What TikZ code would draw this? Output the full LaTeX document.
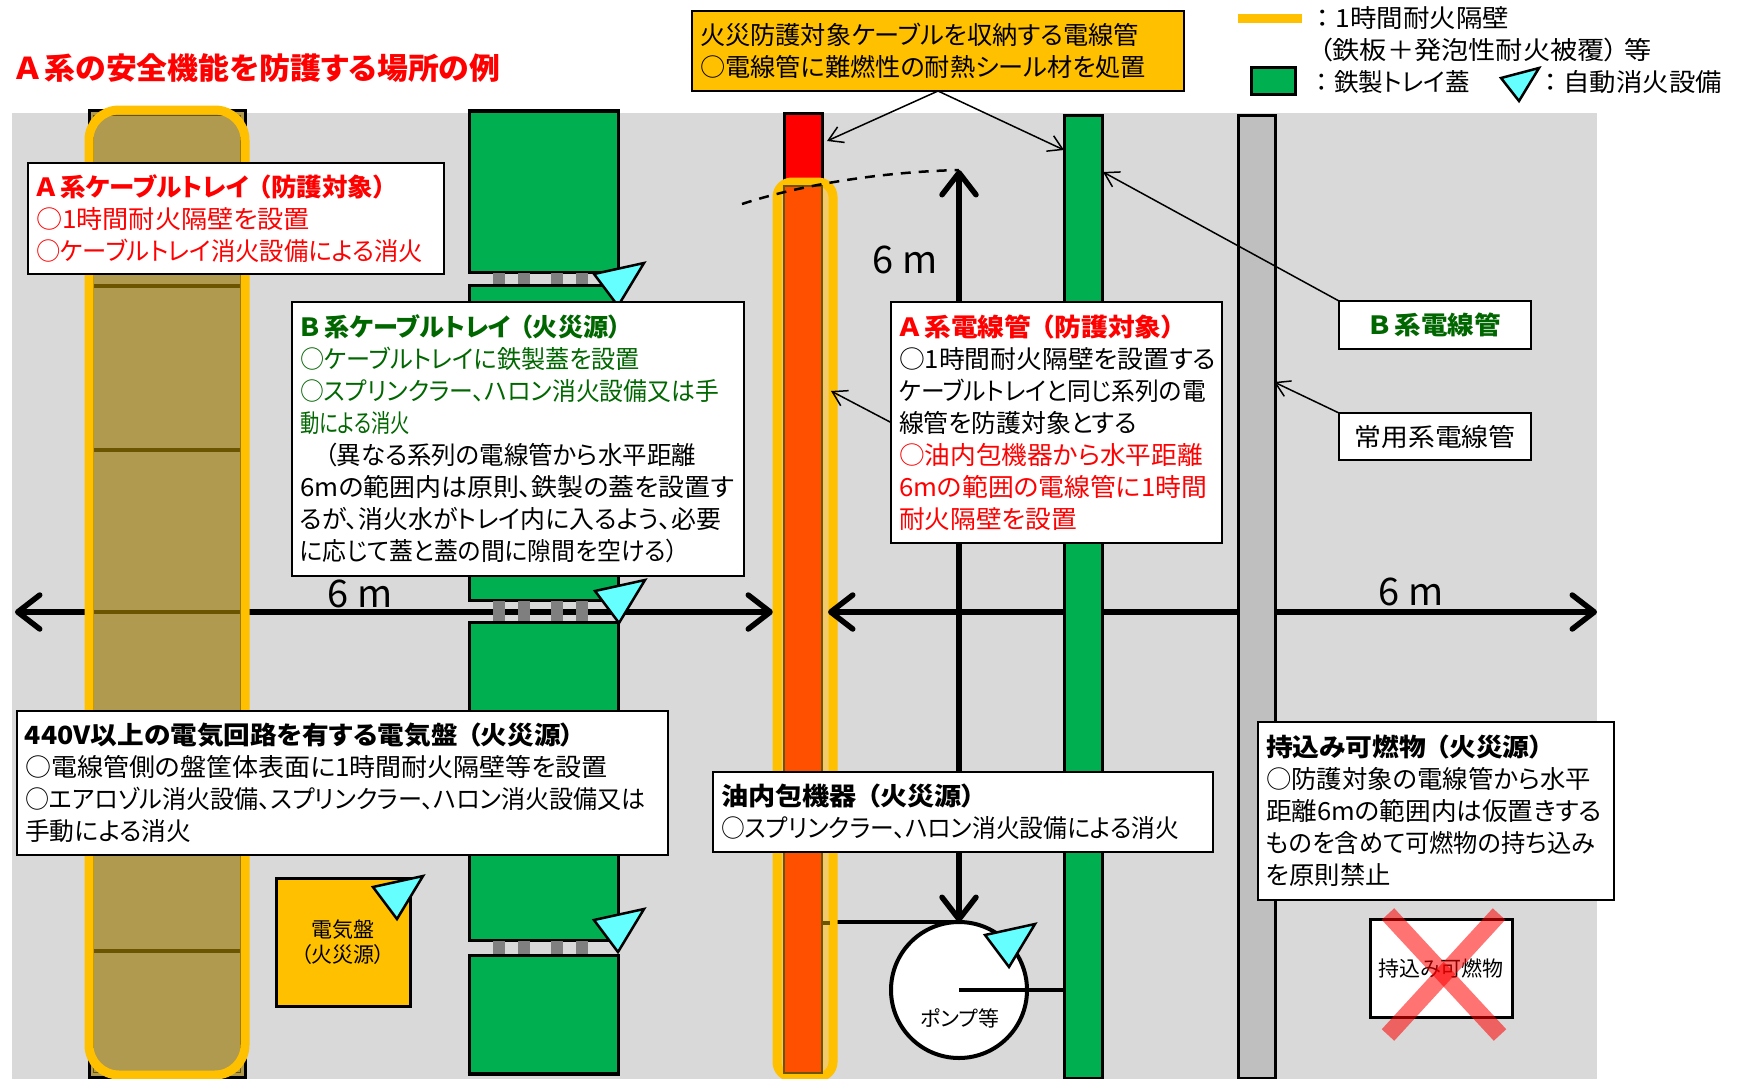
\documentclass[tikz,border=0pt]{standalone}
\usepackage{graphicx}
\usepackage{fontspec}
\setmainfont{Noto Sans CJK JP}[RawFeature={+palt}]
\usetikzlibrary{arrows.meta}

\definecolor{wallyellow}{HTML}{FFC000}
\definecolor{wallpale}{HTML}{F2CA6C}
\definecolor{traygreen}{HTML}{00B050}
\definecolor{traybrown}{HTML}{B09A4F}
\definecolor{bandbrown}{HTML}{6B5500}
\definecolor{groundgray}{HTML}{D9D9D9}
\definecolor{pipegray}{HTML}{BFBFBF}
\definecolor{squaregray}{HTML}{7F7F7F}
\definecolor{pipeorange}{HTML}{FF5000}
\definecolor{nozzlecyan}{HTML}{66FFFF}
\definecolor{textgreen}{HTML}{006600}

% one printed line, set to the width it has on the sheet
\newcommand{\fitline}[2]{\resizebox{#1pt}{\height}{#2}}
\newcommand{\gapA}{\hspace{4pt}}
\newcommand{\gapB}{\hspace{9pt}}

\tikzset{
  bodytext/.style={font=\fontsize{25}{32}\selectfont},
  infobox/.style={draw=black,line width=2pt,fill=white,anchor=north west,align=left,inner sep=8pt,outer sep=0pt,bodytext},
  plaintext/.style={inner sep=0pt,outer sep=0pt,bodytext},
  smalltext/.style={inner sep=0pt,outer sep=0pt,align=center,font=\fontsize{21}{25}\selectfont},
  sixtext/.style={inner sep=0pt,font=\fontsize{38}{38}\selectfont},
  sixarrow/.style={line width=5.5pt,{Straight Barb[length=22pt,width=34pt,round]}-{Straight Barb[length=22pt,width=34pt,round]}},
  notearrow/.style={line width=1.5pt,-{Straight Barb[length=14pt,width=17pt]}},
  wallframe/.style={draw=wallyellow,line width=9pt},
  pipe/.style={draw=black,line width=3pt},
  nozzle/.style={draw=black,line width=2.5pt,fill=nozzlecyan,line join=miter}
}

\begin{document}
\begin{tikzpicture}[x=1pt,y=-1pt]
  \clip (0,0) rectangle (1738,1079);

  % Ground
  \fill[groundgray] (12,113) rectangle (1597,1079);

  % Ends of the 6 m arrows
  \coordinate (lefttip) at (15,612);
  \coordinate (midleft) at (773,612);
  \coordinate (midright) at (828,612);
  \coordinate (righttip) at (1597,612);
  \coordinate (uptip) at (959,170);

  % Arrow under the trays
  \draw[sixarrow] (lefttip) -- (midleft);

  % Pump
  \node[circle,draw=black,line width=4pt,fill=white,minimum size=136pt,inner sep=0pt,outer sep=0pt] (pump) at (959,990) {};
  \coordinate (oilpipe) at (pump.north -| 822,0);
  \coordinate (greenpipe) at (pump.center -| 1064,0);
  \draw[line width=4pt] (oilpipe) -- (pump.north);
  \draw[line width=4pt] (pump.center) -- (greenpipe);
  \node[smalltext] (pumplabel) at (960,1018) {ポンプ等};
  \draw[sixarrow] (uptip) -- (pump.north);

  % A train tray
  \draw[pipe,fill=traybrown] (89,110) rectangle (245,1077);
  \fill[traybrown] (93,115) rectangle (240,1072);
  \draw[bandbrown,line width=1pt] (93,115) rectangle (240,1072);
  \foreach \by in {286,450,612,951}
    \draw[bandbrown,line width=4pt] (93,\by) -- (240,\by);
  \draw[wallframe,rounded corners=30pt] (89,110) rectangle (245,1075);

  % B train tray
  \foreach \ty/\tb in {111/272,285/600,622/940,955/1074}
    \draw[pipe,fill=traygreen] (469,\ty) rectangle (618,\tb);
  \draw[line width=4pt] (467.5,111) -- (619.5,111);
  \draw[line width=4pt] (467.5,1074) -- (619.5,1074);
  \foreach \gy/\gb in {272/285,600/622,940/955}
    \foreach \sx in {493,518,551,576}
      \fill[squaregray] (\sx,\gy+1) rectangle (\sx+12,\gb-1);

  % A train conduit
  \draw[pipe,fill=red] (784,113) rectangle (822,200);
  \draw[wallframe,rounded corners=15pt,fill=wallpale] (777,182) rectangle (833,1077);
  \draw[bandbrown,line width=2pt,fill=pipeorange] (784,186) rectangle (822,1073);
  \draw[bandbrown,line width=4pt] (823,923) -- (830,923);
  \draw[line width=2.5pt,dash pattern=on 10pt off 8pt] (742,204) .. controls (800,185) and (880,172) .. (uptip);

  % Arrow over the wall, under the other conduits
  \draw[sixarrow] (midright) -- (righttip);

  % Other conduits
  \draw[pipe,fill=traygreen] (1064,115) rectangle (1102,1078);
  \draw[pipe,fill=pipegray] (1238,115) rectangle (1275,1078);

  % Panel
  \node[draw=black,line width=3pt,fill=wallyellow,minimum width=134pt,minimum height=128pt,anchor=north west,smalltext] (panel) at (276,878) {電気盤\\（火災源）};

  % Carried in combustibles
  \node[draw=black,line width=3pt,fill=white,minimum width=142pt,minimum height=98pt,anchor=north west,smalltext] (carried) at (1370,919) {持込み可燃物};
  \draw[red,opacity=.55,line width=17pt] (1388,914) -- (1500,1035);
  \draw[red,opacity=.55,line width=17pt] (1499,914) -- (1388,1035);

  % Nozzles
  \foreach \ax/\ay in {594/274,595/591,594/920,373/887,985/935}
    \draw[nozzle] (\ax,\ay) -- ++(50,-11) -- ++(-26,43) -- cycle;

  % Boxes
  \node[infobox,text width=400pt,minimum height=111pt] (atray) at (28,163) {\textcolor{red}{\fitline{350}{\textbf{Ａ\gapA 系ケーブルトレイ\gapB（防護対象）}}}\\
    \textcolor{red}{\fitline{274}{○1時間耐火隔壁を設置}}\\
    \textcolor{red}{\fitline{387}{○ケーブルトレイ消火設備による消火}}};
  \node[infobox,text width=436pt,minimum height=274pt] (btray) at (292,302) {\textcolor{textgreen}{\fitline{321}{\textbf{Ｂ\gapA 系ケーブルトレイ\gapB（火災源）}}}\\
    \textcolor{textgreen}{\fitline{340}{○ケーブルトレイに鉄製蓋を設置}}\\
    \textcolor{textgreen}{\fitline{419}{○スプリンクラー、ハロン消火設備又は手}}\\
    \textcolor{textgreen}{\fitline{110}{動による消火}}\\
    \fitline{396}{　（異なる系列の電線管から水平距離}\\
    \fitline{434}{6mの範囲内は原則、鉄製の蓋を設置す}\\
    \fitline{421}{るが、消火水がトレイ内に入るよう、必要}\\
    \fitline{378}{に応じて蓋と蓋の間に隙間を空ける）}};
  \node[infobox,text width=315pt,minimum height=241pt] (aconduit) at (891,302) {\textcolor{red}{\fitline{276}{\textbf{Ａ\gapA 系電線管\gapB（防護対象）}}}\\
    \fitline{317}{○1時間耐火隔壁を設置する}\\
    \fitline{307}{ケーブルトレイと同じ系列の電}\\
    \fitline{238}{線管を防護対象とする}\\
    \textcolor{red}{\fitline{304}{○油内包機器から水平距離}}\\
    \textcolor{red}{\fitline{308}{6mの範囲の電線管に1時間}}\\
    \textcolor{red}{\fitline{178}{耐火隔壁を設置}}};
  \node[infobox,text width=176pt,minimum height=48pt,align=center] (bconduit) at (1339,301) {\textcolor{textgreen}{\fitline{132}{\textbf{Ｂ\gapA 系電線管}}}};
  \node[infobox,text width=176pt,minimum height=47pt,align=center] (usualconduit) at (1339,413) {\fitline{161}{常用系電線管}};
  \node[infobox,text width=635pt,minimum height=144pt] (panelbox) at (17,711) {\fitline{549}{\textbf{440V以上の電気回路を有する電気盤\gapB（火災源）}}\\
    \fitline{583}{○電線管側の盤筐体表面に1時間耐火隔壁等を設置}\\
    \fitline{621}{○エアロゾル消火設備、スプリンクラー、ハロン消火設備又は}\\
    \fitline{166}{手動による消火}};
  \node[infobox,text width=484pt,minimum height=80pt] (oilbox) at (713,772) {\fitline{254}{\textbf{油内包機器\gapB（火災源）}}\\
    \fitline{458}{○スプリンクラー、ハロン消火設備による消火}};
  \node[infobox,text width=340pt,minimum height=178pt] (carrybox) at (1258,722) {\fitline{277}{\textbf{持込み可燃物\gapB（火災源）}}\\
    \fitline{325}{○防護対象の電線管から水平}\\
    \fitline{336}{距離6mの範囲内は仮置きする}\\
    \fitline{329}{ものを含めて可燃物の持ち込み}\\
    \fitline{125}{を原則禁止}};

  % Callout on top
  \node[infobox,fill=wallyellow,text width=476pt,minimum height=80pt] (sealbox) at (692,11) {\fitline{439}{火災防護対象ケーブルを収納する電線管}\\
    \fitline{446}{○電線管に難燃性の耐熱シール材を処置}};

  % Note arrows
  \coordinate (redpipe) at (827,141);
  \coordinate (greentop) at (1064,150);
  \coordinate (greenmid) at (1103,172);
  \coordinate (graymid) at (1274,382);
  \coordinate (orangemid) at (831,391);
  \draw[notearrow] (sealbox.south) -- (redpipe);
  \draw[notearrow] (sealbox.south) -- (greentop);
  \draw[notearrow] (bconduit.north west) -- (greenmid);
  \draw[notearrow] (usualconduit.north west) -- (graymid);
  \draw[notearrow] (aconduit.west) -- (orangemid);

  % 6 m labels
  \node[sixtext] (sixleft) at (360,594) {6 m};
  \node[sixtext] (sixup) at (905,260) {6 m};
  \node[sixtext] (sixright) at (1411,592) {6 m};

  % Title
  \node[inner sep=0pt,anchor=west,text=red,font=\fontsize{30}{30}\selectfont\bfseries] (title) at (16,68) {\fitline{484}{Ａ\gapA 系の安全機能を防護する場所の例}};

  % Legend
  \draw[wallyellow,line width=9pt] (1238,18.5) -- (1302,18.5);
  \node[draw=black,line width=3pt,fill=traygreen,minimum width=44pt,minimum height=27pt,inner sep=0pt,outer sep=0pt,anchor=north west] (legendcover) at (1251,67) {};
  \draw[nozzle] (1501,78) -- (1539,68) -- (1519,101) -- cycle;
  \node[plaintext,anchor=west] (legendwall) at (1316,18) {\fitline{193}{：\hspace{6pt}1時間耐火隔壁}};
  \node[plaintext,anchor=west] (legendsteel) at (1319,50) {\fitline{333}{（鉄板＋発泡性耐火被覆）\hspace{6pt}等}};
  \node[plaintext,anchor=west] (legendlid) at (1316,82) {\fitline{154}{：\hspace{6pt}鉄製トレイ蓋}};
  \node[plaintext,anchor=west] (legendfire) at (1544,82) {\fitline{178}{：\hspace{6pt}自動消火設備}};
\end{tikzpicture}
\end{document}
